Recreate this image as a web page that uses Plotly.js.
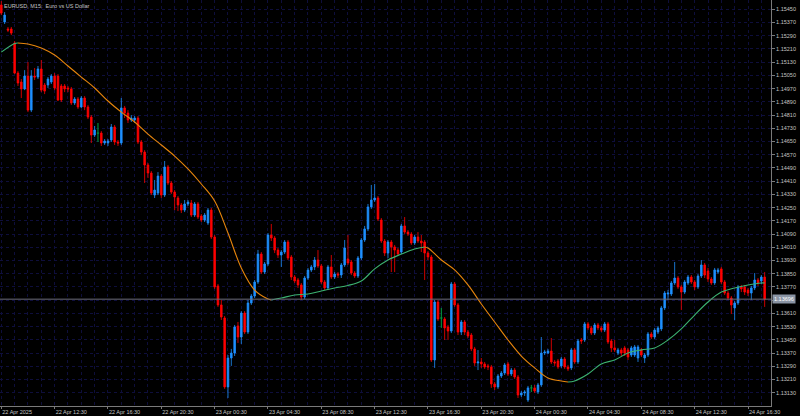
<!DOCTYPE html>
<html>
<head>
<meta charset="utf-8">
<script src="https://cdn.plot.ly/plotly-3.0.1.min.js"></script>
<style>html,body{margin:0;padding:0;background:#000;}#chart{width:800px;height:416px;}</style>
</head>
<body>
<div id="chart"></div>
<script>
// EURUSD M15 bars, first bar 22 Apr 2025 08:30 (bar index = 15-minute step)
const opens = [
1.15476,1.15373,1.15331,1.15331,1.15246,1.15064,1.15010,1.14968,1.15046,1.14840,
1.15046,1.15040,1.15089,1.14992,1.14992,1.15010,1.15046,1.15046,1.14986,1.14986,
1.14974,1.14968,1.14883,1.14907,1.14859,1.14913,1.14859,1.14798,1.14689,1.14701,
1.14701,1.14641,1.14641,1.14659,1.14738,1.14647,1.14641,1.14853,1.14822,1.14780,
1.14780,1.14792,1.14647,1.14586,1.14508,1.14459,1.14326,1.14338,1.14441,1.14326,
1.14496,1.14399,1.14344,1.14308,1.14266,1.14235,1.14272,1.14278,1.14205,1.14272,
1.14199,1.14175,1.14157,1.14235,1.14072,1.13776,1.13661,1.13582,1.13165,1.13340,
1.13370,1.13534,1.13467,1.13612,1.13497,1.13673,1.13715,1.13800,1.13969,1.13860,
1.13909,1.14084,1.14066,1.13993,1.13963,1.13981,1.14042,1.13951,1.13830,1.13812,
1.13782,1.13709,1.13824,1.13872,1.13891,1.13933,1.13897,1.13800,1.13764,1.13891,
1.13830,1.13848,1.13842,1.13903,1.13939,1.13921,1.13854,1.13836,1.13945,1.14054,
1.14121,1.14254,1.14296,1.14308,1.14175,1.14048,1.13975,1.14042,1.14012,1.13993,
1.13981,1.14139,1.14102,1.14090,1.14036,1.14072,1.14048,1.14042,1.13975,1.13951,
1.13328,1.13679,1.13582,1.13576,1.13528,1.13503,1.13788,1.13661,1.13497,1.13558,
1.13497,1.13479,1.13395,1.13310,1.13316,1.13304,1.13292,1.13286,1.13183,1.13165,
1.13231,1.13249,1.13304,1.13243,1.13267,1.13225,1.13116,1.13128,1.13086,1.13159,
1.13159,1.13134,1.13177,1.13370,1.13370,1.13382,1.13316,1.13322,1.13292,1.13334,
1.13286,1.13280,1.13389,1.13316,1.13449,1.13449,1.13546,1.13522,1.13491,1.13540,
1.13522,1.13509,1.13546,1.13443,1.13401,1.13370,1.13389,1.13401,1.13389,1.13358,
1.13358,1.13340,1.13389,1.13340,1.13358,1.13485,1.13467,1.13497,1.13516,1.13643,
1.13727,1.13727,1.13794,1.13824,1.13770,1.13739,1.13794,1.13830,1.13800,1.13770,
1.13836,1.13903,1.13866,1.13818,1.13794,1.13860,1.13879,1.13800,1.13733,1.13703,
1.13643,1.13673,1.13770,1.13770,1.13751,1.13733,1.13764,1.13812,1.13806,1.13830];
const highs = [
1.15500,1.15433,1.15343,1.15343,1.15258,1.15076,1.15028,1.15082,1.15131,1.15082,
1.15095,1.15107,1.15143,1.15004,1.15040,1.15058,1.15064,1.15058,1.14998,1.14998,
1.14986,1.14980,1.14919,1.14919,1.14925,1.14925,1.14871,1.14810,1.14744,1.14762,
1.14713,1.14665,1.14665,1.14756,1.14750,1.14659,1.14913,1.14865,1.14840,1.14810,
1.14804,1.14804,1.14659,1.14598,1.14520,1.14471,1.14417,1.14465,1.14453,1.14532,
1.14508,1.14411,1.14356,1.14320,1.14278,1.14296,1.14296,1.14296,1.14284,1.14284,
1.14211,1.14217,1.14248,1.14248,1.14084,1.13788,1.13691,1.13594,1.13358,1.13395,
1.13540,1.13558,1.13624,1.13624,1.13691,1.13727,1.13812,1.13994,1.13981,1.13921,
1.14096,1.14151,1.14078,1.14006,1.13993,1.14054,1.14054,1.13963,1.13842,1.13824,
1.13794,1.13836,1.13885,1.13903,1.13951,1.13993,1.13909,1.13812,1.13903,1.13963,
1.13860,1.13860,1.13915,1.14054,1.14084,1.13933,1.13866,1.13957,1.14066,1.14139,
1.14272,1.14387,1.14393,1.14320,1.14187,1.14060,1.14054,1.14054,1.14024,1.14006,
1.14151,1.14193,1.14114,1.14102,1.14084,1.14102,1.14084,1.14054,1.13987,1.13963,
1.13691,1.13691,1.13643,1.13588,1.13540,1.13800,1.13800,1.13673,1.13570,1.13570,
1.13509,1.13491,1.13407,1.13388,1.13340,1.13316,1.13304,1.13298,1.13195,1.13243,
1.13261,1.13310,1.13316,1.13280,1.13280,1.13237,1.13140,1.13146,1.13171,1.13177,
1.13177,1.13189,1.13467,1.13389,1.13395,1.13461,1.13328,1.13334,1.13346,1.13346,
1.13298,1.13401,1.13401,1.13455,1.13461,1.13558,1.13558,1.13534,1.13552,1.13552,
1.13534,1.13558,1.13558,1.13455,1.13449,1.13401,1.13401,1.13413,1.13401,1.13413,
1.13419,1.13419,1.13401,1.13370,1.13497,1.13497,1.13522,1.13534,1.13655,1.13745,
1.13752,1.13806,1.13921,1.13836,1.13782,1.13812,1.13842,1.13842,1.13812,1.13848,
1.13933,1.13915,1.13885,1.13830,1.13885,1.13885,1.13891,1.13812,1.13745,1.13715,
1.13685,1.13782,1.13782,1.13782,1.13764,1.13776,1.13854,1.13824,1.13842,1.13860];
const lows = [
1.15415,1.15361,1.15312,1.15294,1.15058,1.14986,1.14913,1.14961,1.14828,1.14828,
1.15022,1.15028,1.14949,1.14937,1.14974,1.14998,1.14961,1.14895,1.14889,1.14949,
1.14949,1.14871,1.14871,1.14847,1.14853,1.14840,1.14786,1.14641,1.14677,1.14647,
1.14623,1.14629,1.14623,1.14647,1.14629,1.14623,1.14629,1.14792,1.14762,1.14768,
1.14762,1.14635,1.14568,1.14399,1.14429,1.14326,1.14308,1.14326,1.14308,1.14314,
1.14387,1.14332,1.14235,1.14229,1.14217,1.14223,1.14260,1.14193,1.14193,1.14181,
1.14163,1.14163,1.14145,1.14060,1.13758,1.13649,1.13570,1.13153,1.13098,1.13292,
1.13352,1.13431,1.13425,1.13485,1.13485,1.13661,1.13703,1.13788,1.13848,1.13848,
1.13897,1.14048,1.13975,1.13945,1.13891,1.13969,1.13933,1.13812,1.13794,1.13764,
1.13691,1.13697,1.13812,1.13860,1.13872,1.13885,1.13788,1.13751,1.13751,1.13818,
1.13818,1.13824,1.13824,1.13891,1.13903,1.13842,1.13824,1.13824,1.13933,1.14042,
1.14108,1.14242,1.14284,1.14169,1.14036,1.13957,1.13945,1.13860,1.13860,1.13957,
1.13969,1.14090,1.14078,1.14024,1.14024,1.14036,1.13981,1.13812,1.13933,1.13316,
1.13280,1.13564,1.13522,1.13449,1.13449,1.13491,1.13649,1.13479,1.13479,1.13479,
1.13461,1.13382,1.13292,1.13267,1.13280,1.13274,1.13267,1.13159,1.13146,1.13153,
1.13219,1.13237,1.13231,1.13231,1.13213,1.13098,1.13104,1.13110,1.13074,1.13134,
1.13128,1.13122,1.13165,1.13358,1.13364,1.13304,1.13292,1.13274,1.13280,1.13274,
1.13261,1.13267,1.13304,1.13304,1.13425,1.13437,1.13509,1.13479,1.13479,1.13509,
1.13497,1.13497,1.13425,1.13376,1.13376,1.13358,1.13352,1.13352,1.13328,1.13346,
1.13346,1.13316,1.13346,1.13310,1.13346,1.13455,1.13455,1.13485,1.13503,1.13630,
1.13691,1.13715,1.13782,1.13758,1.13630,1.13727,1.13782,1.13788,1.13751,1.13758,
1.13824,1.13824,1.13800,1.13782,1.13782,1.13848,1.13788,1.13721,1.13691,1.13606,
1.13570,1.13661,1.13739,1.13721,1.13715,1.13691,1.13751,1.13776,1.13788,1.13649];
const closes = [
1.15427,1.15415,1.15324,1.15306,1.15064,1.15004,1.14968,1.15046,1.14840,1.15046,
1.15040,1.15089,1.14961,1.14955,1.15028,1.15046,1.14974,1.14901,1.14901,1.14968,
1.14968,1.14883,1.14907,1.14859,1.14913,1.14859,1.14798,1.14689,1.14720,1.14701,
1.14641,1.14653,1.14653,1.14738,1.14647,1.14641,1.14853,1.14822,1.14780,1.14792,
1.14792,1.14647,1.14586,1.14508,1.14459,1.14338,1.14356,1.14441,1.14326,1.14496,
1.14399,1.14344,1.14314,1.14266,1.14235,1.14272,1.14284,1.14205,1.14272,1.14193,
1.14175,1.14205,1.14235,1.14072,1.13770,1.13661,1.13588,1.13165,1.13340,1.13370,
1.13528,1.13467,1.13612,1.13497,1.13673,1.13715,1.13800,1.13969,1.13860,1.13909,
1.14084,1.14066,1.13993,1.13963,1.13981,1.14042,1.13945,1.13830,1.13806,1.13782,
1.13709,1.13824,1.13872,1.13891,1.13933,1.13897,1.13800,1.13764,1.13891,1.13830,
1.13848,1.13842,1.13903,1.14006,1.13915,1.13854,1.13836,1.13945,1.14054,1.14121,
1.14254,1.14296,1.14308,1.14181,1.14048,1.13975,1.14042,1.14012,1.13993,1.13969,
1.14139,1.14102,1.14090,1.14036,1.14072,1.14048,1.14036,1.13975,1.13951,1.13328,
1.13679,1.13576,1.13582,1.13522,1.13503,1.13788,1.13661,1.13497,1.13558,1.13497,
1.13473,1.13395,1.13310,1.13316,1.13304,1.13286,1.13286,1.13183,1.13165,1.13231,
1.13249,1.13298,1.13243,1.13267,1.13225,1.13116,1.13128,1.13134,1.13159,1.13159,
1.13140,1.13177,1.13370,1.13376,1.13382,1.13316,1.13310,1.13286,1.13334,1.13286,
1.13274,1.13389,1.13316,1.13443,1.13443,1.13546,1.13522,1.13491,1.13540,1.13522,
1.13509,1.13546,1.13437,1.13401,1.13389,1.13389,1.13370,1.13370,1.13346,1.13401,
1.13407,1.13407,1.13358,1.13358,1.13485,1.13467,1.13509,1.13522,1.13643,1.13733,
1.13733,1.13794,1.13824,1.13770,1.13739,1.13800,1.13830,1.13800,1.13770,1.13836,
1.13903,1.13842,1.13818,1.13794,1.13873,1.13873,1.13800,1.13733,1.13703,1.13661,
1.13673,1.13770,1.13758,1.13739,1.13733,1.13764,1.13812,1.13794,1.13830,1.13696];

// moving average line, read at these bar indices
const maIdx = [0,4,5,8,12,16,20,24,28,32,36,40,44,48,52,56,60,64,68,72,76,80,81,84,88,92,96,100,104,108,112,116,120,124,127,128,132,136,140,144,148,152,156,160,164,168,170,172,176,180,184,188,192,196,200,204,208,212,216,220,224,228,229];
const maVal = [1.15191,1.15243,1.15246,1.15240,1.15216,1.15173,1.15107,1.15040,1.14974,1.14895,
1.14828,1.14768,1.14695,1.14629,1.14562,1.14484,1.14393,1.14290,1.14096,1.13885,
1.13751,1.13697,1.13691,1.13703,1.13721,1.13727,1.13745,1.13764,1.13779,1.13806,
1.13879,1.13933,1.13969,1.14000,1.14012,1.14006,1.13933,1.13873,1.13782,1.13667,
1.13558,1.13449,1.13352,1.13280,1.13219,1.13201,1.13195,1.13201,1.13243,1.13304,
1.13328,1.13370,1.13389,1.13401,1.13449,1.13516,1.13600,1.13679,1.13739,1.13764,
1.13782,1.13794,1.13794];

const xTickIdx = [0,16,32,48,64,80,96,112,128,144,160,176,192,208,224];
const xTickText = ["22 Apr 2025","22 Apr 12:30","22 Apr 16:30","22 Apr 20:30","23 Apr 00:30","23 Apr 04:30","23 Apr 08:30","23 Apr 12:30","23 Apr 16:30","23 Apr 20:30","24 Apr 00:30","24 Apr 04:30","24 Apr 08:30","24 Apr 12:30","24 Apr 16:30"];
const yTicks = [1.13130,1.13210,1.13290,1.13370,1.13450,1.13530,1.13610,1.13690,1.13770,1.13850,1.13930,1.14010,1.14090,1.14170,1.14250,1.14330,1.14410,1.14490,1.14570,1.14650,1.14730,1.14810,1.14890,1.14970,1.15050,1.15130,1.15210,1.15290,1.15370,1.15450];
const lastPrice = 1.13696;
const symbolTitle = "EURUSD, M15:\u00a0 Euro vs US Dollar";

const UP = '#1E90FF', DOWN = '#FF0000', DOJI = '#00A040';
const MA_UP = '#3CB371', MA_DOWN = '#E8860C';
const GRID = '#0e0e3c';
const AXIS = '#7a7a7a';
const TXT = '#c4c4c4';

const N = opens.length;
const all = Array.from({length:N}, (_, i) => i);
const main = all.filter(i => opens[i] !== closes[i]);
const doji = all.filter(i => opens[i] === closes[i]);
const pick = (arr, ids) => ids.map(i => arr[i]);

const traces = [];
traces.push({
  type:'candlestick', x: main,
  open: pick(opens, main), high: pick(highs, main), low: pick(lows, main), close: pick(closes, main),
  increasing:{line:{color:UP, width:0.8}, fillcolor:UP},
  decreasing:{line:{color:DOWN, width:0.8}, fillcolor:DOWN},
  whiskerwidth:0, hoverinfo:'skip', showlegend:false
});
// doji bars (open == close) drawn as thin green strokes
const dx = [], dy = [];
doji.forEach(i => { dx.push(i, i, null); dy.push(highs[i], lows[i], null); });
traces.push({type:'scatter', mode:'lines', x:dx, y:dy, line:{color:DOJI, width:1}, hoverinfo:'skip', showlegend:false});
doji.forEach(i => {
  traces.push({type:'scatter', mode:'lines', x:[i-0.35, i+0.35], y:[opens[i], closes[i]], line:{color:DOJI, width:1}, hoverinfo:'skip', showlegend:false});
});

// MA segments coloured by direction
let segs = [], cur = null, prevDir = 1;
for (let k = 0; k < maIdx.length - 1; k++) {
  const d = maVal[k+1] - maVal[k];
  const dir = d > 0 ? 1 : (d < 0 ? -1 : prevDir);
  if (!cur || dir !== cur.dir) {
    cur = {dir, x:[maIdx[k]], y:[maVal[k]]};
    segs.push(cur);
  }
  cur.x.push(maIdx[k+1]); cur.y.push(maVal[k+1]);
  prevDir = dir;
}
segs.forEach(s => traces.push({
  type:'scatter', mode:'lines', x:s.x, y:s.y,
  line:{color: s.dir > 0 ? MA_UP : MA_DOWN, width:1.1, shape:'spline', smoothing:1},
  hoverinfo:'skip', showlegend:false
}));

// price-scale labels: the one under the last-price box is covered, as on the terminal
const yTickText = yTicks.map(v => Math.abs(v - lastPrice) < 0.0003 ? '' : v.toFixed(5));

const layout = {
  width:800, height:416,
  paper_bgcolor:'#000000', plot_bgcolor:'#000000',
  margin:{l:0, r:29, t:0, b:10, pad:0},
  showlegend:false,
  font:{family:'Liberation Sans, Arial, sans-serif', size:5.5, color:TXT},
  xaxis:{
    type:'linear', range:[-0.39, 230.9], rangeslider:{visible:false},
    tickmode:'array', tickvals:xTickIdx, ticktext:xTickText,
    ticks:'outside', ticklen:2, tickcolor:AXIS, ticklabelposition:'outside right',
    tickfont:{family:'Liberation Sans, Arial, sans-serif', size:5.5, color:TXT},
    showgrid:true, gridcolor:GRID, griddash:'dot', gridwidth:1,
    minor:{tickmode:'linear', tick0:0, dtick:4, showgrid:true, gridcolor:GRID, griddash:'dot', gridwidth:1, ticks:''},
    showline:true, linecolor:AXIS, linewidth:1, zeroline:false, fixedrange:true
  },
  yaxis:{
    side:'right', range:[1.130495, 1.155063],
    tickmode:'array', tickvals:yTicks, ticktext:yTickText,
    ticks:'outside', ticklen:3, tickcolor:AXIS,
    tickfont:{family:'Liberation Sans, Arial, sans-serif', size:5.5, color:TXT},
    showgrid:true, gridcolor:GRID, griddash:'dot', gridwidth:1,
    showline:true, linecolor:AXIS, linewidth:1, zeroline:false, fixedrange:true
  },
  shapes:[{type:'line', xref:'paper', x0:0, x1:1, yref:'y', y0:lastPrice, y1:lastPrice, line:{color:'#6c6c7c', width:1}}],
  annotations:[
    {xref:'paper', yref:'paper', x:0, y:1, xanchor:'left', yanchor:'top', xshift:2, yshift:-1, text:symbolTitle, showarrow:false, font:{size:5.5, color:TXT}},
    {xref:'paper', yref:'y', x:1, y:lastPrice, xanchor:'left', yanchor:'middle', xshift:1, text:lastPrice.toFixed(5), showarrow:false, bgcolor:'#8a94a4', borderpad:1, font:{size:5.5, color:'#ffffff'}}
  ]
};

Plotly.newPlot('chart', traces, layout, {staticPlot:true, displayModeBar:false});
</script>
</body>
</html>
